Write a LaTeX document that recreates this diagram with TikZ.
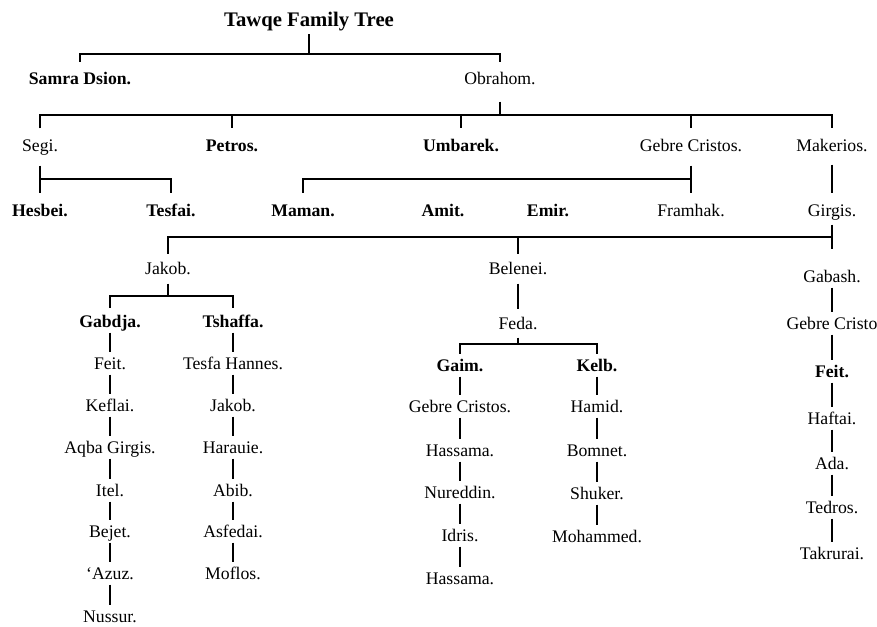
\documentclass[tikz,border=0pt]{standalone}
\usepackage{fontspec}
\setmainfont{Liberation Serif}

\begin{document}
\begin{tikzpicture}[x=1pt,y=-1pt,line width=2.1pt,
    person/.style={inner xsep=2pt,inner ysep=3.5pt,text height=12pt,text depth=4pt,
      font=\fontsize{17.7}{20}\selectfont},
    elder/.style={person,font=\fontsize{17.7}{20}\selectfont\bfseries}]
    \useasboundingbox (0,0) rectangle (877,626);
    % levels of the bars
    \coordinate (lvl1) at (0,54);
    \coordinate (lvl2) at (0,115);
    \coordinate (lvl3) at (0,179);
    \coordinate (lvl4) at (0,237);
    \coordinate (lvl5) at (0,296);
    \coordinate (lvl6) at (0,344);

    \node[font=\fontsize{20.7}{24}\selectfont\bfseries,inner ysep=2pt] (title) at (309,22) {Tawqe Family Tree};
    \node[elder] (samra) at (80,80) {Samra Dsion.};
    \node[person] (obrahom) at (500,80) {Obrahom.};

    \node[person] (segi) at (40,147) {Segi.};
    \node[elder] (petros) at (232,147) {Petros.};
    \node[elder] (umbarek) at (461,147) {Umbarek.};
    \node[person] (gebre) at (691,147) {Gebre Cristos.};
    \node[person] (makerios) at (832,147) {Makerios.};

    \node[elder] (hesbei) at (40,212) {Hesbei.};
    \node[elder] (tesfai) at (171,212) {Tesfai.};
    \node[elder] (maman) at (303,212) {Maman.};
    \node[elder] (amit) at (443,212) {Amit.};
    \node[elder] (emir) at (548,212) {Emir.};
    \node[person] (framhak) at (691,212) {Framhak.};
    \node[person] (girgis) at (832,212) {Girgis.};

    \node[person] (jakob) at (168,270) {Jakob.};
    \node[person] (belenei) at (518,270) {Belenei.};
    \node[person] (feda) at (518,325) {Feda.};
    \node[person] (gabash) at (832,278) {Gabash.};

    \node[elder] (gabdja) at (110,323) {Gabdja.};
    \node[elder] (tshaffa) at (233,323) {Tshaffa.};
    \node[elder] (gaim) at (460,367) {Gaim.};
    \node[elder] (kelb) at (597,367) {Kelb.};

    % descent lines
    \foreach \n/\y/\t [remember=\n as \last (initially gabdja)] in
      {feitA/365/Feit., keflai/407/Keflai., aqba/449/Aqba Girgis., itel/492/Itel.,
       bejet/533/Bejet., azuz/575/‘Azuz., nussur/618/Nussur.}
    {
      \node[person] (\n) at (110,\y) {\t};
      \draw[shorten <=-3pt] (\last) -- (\n);
    }
    \foreach \n/\y/\t [remember=\n as \last (initially tshaffa)] in
      {tesfa/365/Tesfa Hannes., jakobB/407/Jakob., harauie/449/Harauie.,
       abib/492/Abib., asfedai/533/Asfedai., moflos/575/Moflos.}
    {
      \node[person] (\n) at (233,\y) {\t};
      \draw[shorten <=-3pt] (\last) -- (\n);
    }
    \foreach \n/\y/\t [remember=\n as \last (initially gaim)] in
      {gebreB/408/Gebre Cristos., hassama/452/Hassama., nureddin/494/Nureddin.,
       idris/537/Idris., hassamaB/580/Hassama.}
    {
      \node[person] (\n) at (460,\y) {\t};
      \draw[shorten <=-3pt] (\last) -- (\n);
    }
    \foreach \n/\y/\t [remember=\n as \last (initially kelb)] in
      {hamid/408/Hamid., bomnet/452/Bomnet., shuker/495/Shuker., mohammed/538/Mohammed.}
    {
      \node[person] (\n) at (597,\y) {\t};
      \draw[shorten <=-3pt] (\last) -- (\n);
    }
    \foreach \n/\y/\t/\s [remember=\n as \last (initially gabash)] in
      {gebreC/325/Gebre Cristo/person, feitB/373/Feit./elder, haftai/420/Haftai./person,
       ada/465/Ada./person, tedros/509/Tedros./person, takrurai/555/Takrurai./person}
    {
      \node[\s] (\n) at (832,\y) {\t};
      \draw[shorten <=-3pt] (\last) -- (\n);
    }

    % bars
    \draw[shorten >=5pt] (title) -- (title |- lvl1) -| (samra);
    \draw[shorten >=5pt] (title |- lvl1) -| (obrahom);
    \draw[shorten <=9pt] (obrahom) -- (obrahom |- lvl2);
    \draw[shorten <=6pt,shorten >=6pt] (segi) |- (makerios |- lvl2) -- (makerios);
    \foreach \n in {petros,umbarek,gebre}
      \draw[shorten >=6pt] (\n |- lvl2) -- (\n);
    \draw[shorten <=6pt,shorten >=6pt] (segi) -- (hesbei);
    \draw[shorten >=6pt] (segi |- lvl3) -| (tesfai);
    \draw[shorten <=6pt,shorten >=6pt] (gebre) -- (framhak);
    \draw[shorten >=6pt] (gebre |- lvl3) -| (maman);
    \draw[shorten <=5pt,shorten >=6pt] (makerios) -- (girgis);
    \draw[shorten >=16pt] (girgis) -- (gabash);
    \draw[shorten >=3pt] (girgis |- lvl4) -| (jakob);
    \draw[shorten >=3pt] (belenei |- lvl4) -- (belenei);
    \draw[shorten <=1pt,shorten >=2pt] (jakob) -- (jakob |- lvl5) -| (gabdja);
    \draw[shorten >=2pt] (jakob |- lvl5) -| (tshaffa);
    \draw[shorten <=1pt,shorten >=3pt] (belenei) -- (feda);
    \draw (feda) -- (feda |- lvl6) -| (gaim);
    \draw (feda |- lvl6) -| (kelb);
\end{tikzpicture}
\end{document}
